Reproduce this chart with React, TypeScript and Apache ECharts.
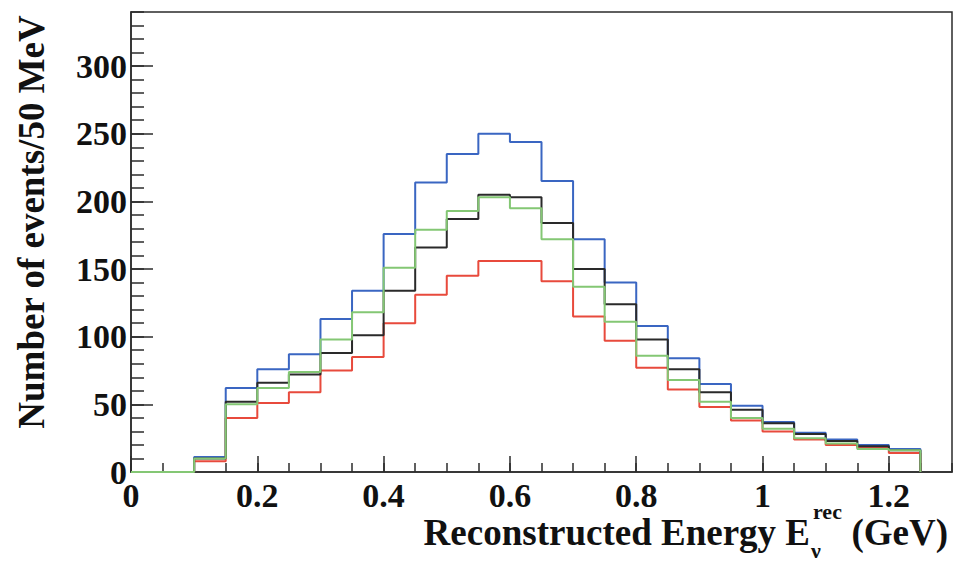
import React, { useEffect, useRef } from "react";
import * as echarts from "echarts";

// Bin edges (GeV), 50 MeV bins
const binEdges = [
  0, 0.05, 0.1, 0.15, 0.2, 0.25, 0.3, 0.35, 0.4, 0.45, 0.5, 0.55, 0.6, 0.65,
  0.7, 0.75, 0.8, 0.85, 0.9, 0.95, 1.0, 1.05, 1.1, 1.15, 1.2, 1.25,
];

// Events per bin for each histogram
const blueCounts = [0, 0, 11, 62, 76, 87, 113, 134, 176, 214, 235, 250, 244, 215, 172, 140, 108, 84, 65, 49, 37, 29, 24, 20, 17];
const blackCounts = [0, 0, 10, 52, 66, 72, 88, 101, 134, 166, 187, 205, 203, 184, 150, 124, 98, 76, 59, 46, 36, 28, 23, 19, 16];
const greenCounts = [0, 0, 10, 50, 62, 74, 98, 118, 151, 179, 193, 203, 195, 172, 137, 111, 86, 68, 52, 40, 32, 25, 21, 17, 16];
const redCounts = [0, 0, 8, 40, 51, 59, 75, 85, 110, 131, 145, 156, 156, 141, 115, 97, 77, 61, 48, 38, 30, 24, 20, 18, 14];

const yTickLabels = ["0", "50", "100", "150", "200", "250", "300"];
const xTickLabels = ["0", "0.2", "0.4", "0.6", "0.8", "1", "1.2"];

const FONT = '"Liberation Serif", "Times New Roman", serif';

function stepPoints(counts: number[]): number[][] {
  const pts: number[][] = [[binEdges[0], 0]];
  for (let i = 0; i < counts.length; i++) {
    pts.push([binEdges[i], counts[i]]);
    pts.push([binEdges[i + 1], counts[i]]);
  }
  pts.push([binEdges[binEdges.length - 1], 0]);
  return pts;
}

function histSeries(name: string, counts: number[], color: string, z: number) {
  return {
    name,
    type: "line",
    data: stepPoints(counts),
    xAxisIndex: 0,
    yAxisIndex: 0,
    showSymbol: false,
    symbol: "none",
    z,
    lineStyle: { color, width: 2 },
    emphasis: { disabled: true },
  };
}

export default function App() {
  const ref = useRef<HTMLDivElement>(null);
  useEffect(() => {
    const chart = echarts.init(ref.current!, null, { renderer: "svg" });
    const axisColor = "#2b2b2b";
    const labelStyle = {
      color: "#111",
      fontFamily: FONT,
      fontWeight: "bold" as const,
      fontSize: 34,
      lineHeight: 28,
    };
    chart.setOption({
      animation: false,
      backgroundColor: "#ffffff",
      grid: {
        left: 131,
        top: 12,
        right: 3,
        bottom: 92,
        show: true,
        borderColor: axisColor,
        borderWidth: 1.5,
        backgroundColor: "transparent",
      },
      xAxis: [
        {
          type: "value",
          position: "bottom",
          min: 0,
          max: 1.3,
          interval: 0.2,
          axisLine: { show: true, lineStyle: { color: axisColor, width: 1.5 } },
          axisTick: { show: true, inside: true, length: 16, lineStyle: { color: axisColor, width: 1.5 } },
          splitLine: { show: false },
          axisLabel: {
            ...labelStyle,
            margin: 9,
            showMaxLabel: false,
            formatter: (v: number) => {
              const idx = Math.round(v / 0.2);
              if (Math.abs(v - idx * 0.2) > 1e-6) return "";
              return xTickLabels[idx] ?? "";
            },
          },
        },
        {
          type: "value",
          position: "bottom",
          min: 0,
          max: 1.3,
          interval: 0.05,
          axisLine: { show: false },
          axisTick: { show: true, inside: true, length: 9, lineStyle: { color: axisColor, width: 1.5 } },
          splitLine: { show: false },
          axisLabel: { show: false },
        },
      ],
      yAxis: [
        {
          type: "value",
          position: "left",
          min: 0,
          max: 340,
          interval: 50,
          axisLine: { show: true, lineStyle: { color: axisColor, width: 1.5 } },
          axisTick: { show: true, inside: true, length: 22, lineStyle: { color: axisColor, width: 1.5 } },
          splitLine: { show: false },
          axisLabel: {
            ...labelStyle,
            lineHeight: 22,
            margin: 4,
            showMaxLabel: false,
            formatter: (v: number) => {
              const idx = Math.round(v / 50);
              if (Math.abs(v - idx * 50) > 1e-6) return "";
              return yTickLabels[idx] ?? "";
            },
          },
        },
        {
          type: "value",
          position: "left",
          min: 0,
          max: 340,
          interval: 10,
          axisLine: { show: false },
          axisTick: { show: true, inside: true, length: 13, lineStyle: { color: axisColor, width: 1.5 } },
          splitLine: { show: false },
          axisLabel: { show: false },
        },
      ],
      series: [
        histSeries("blue", blueCounts, "#3a66c2", 2),
        histSeries("red", redCounts, "#e84a3c", 3),
        histSeries("black", blackCounts, "#2a2a2a", 4),
        histSeries("green", greenCounts, "#84c774", 5),
      ],
      graphic: [
        {
          type: "text",
          x: 31,
          y: 222,
          rotation: Math.PI / 2,
          style: {
            text: "Number of events/50 MeV",
            fill: "#111",
            font: `bold 37px ${FONT}`,
            align: "center",
            verticalAlign: "middle",
          },
        },
        {
          type: "text",
          x: 810,
          y: 532,
          style: {
            text: "Reconstructed Energy E",
            fill: "#111",
            font: `bold 37px ${FONT}`,
            lineHeight: 30,
            align: "right",
            verticalAlign: "middle",
          },
        },
        {
          type: "text",
          x: 813,
          y: 511,
          style: {
            text: "rec",
            fill: "#111",
            font: `bold 22px ${FONT}`,
            align: "left",
            verticalAlign: "middle",
          },
        },
        {
          type: "text",
          x: 811,
          y: 550,
          style: {
            text: "ν",
            fill: "#111",
            font: `bold 22px ${FONT}`,
            lineHeight: 22,
            align: "left",
            verticalAlign: "middle",
          },
        },
        {
          type: "text",
          x: 948,
          y: 532,
          style: {
            text: "(GeV)",
            fill: "#111",
            font: `bold 37px ${FONT}`,
            lineHeight: 30,
            align: "right",
            verticalAlign: "middle",
          },
        },
      ],
    });
    return () => chart.dispose();
  }, []);
  return (
    <div
      ref={ref}
      style={{ position: "fixed", left: 0, top: 0, width: 955, height: 564, background: "#fff" }}
    />
  );
}
